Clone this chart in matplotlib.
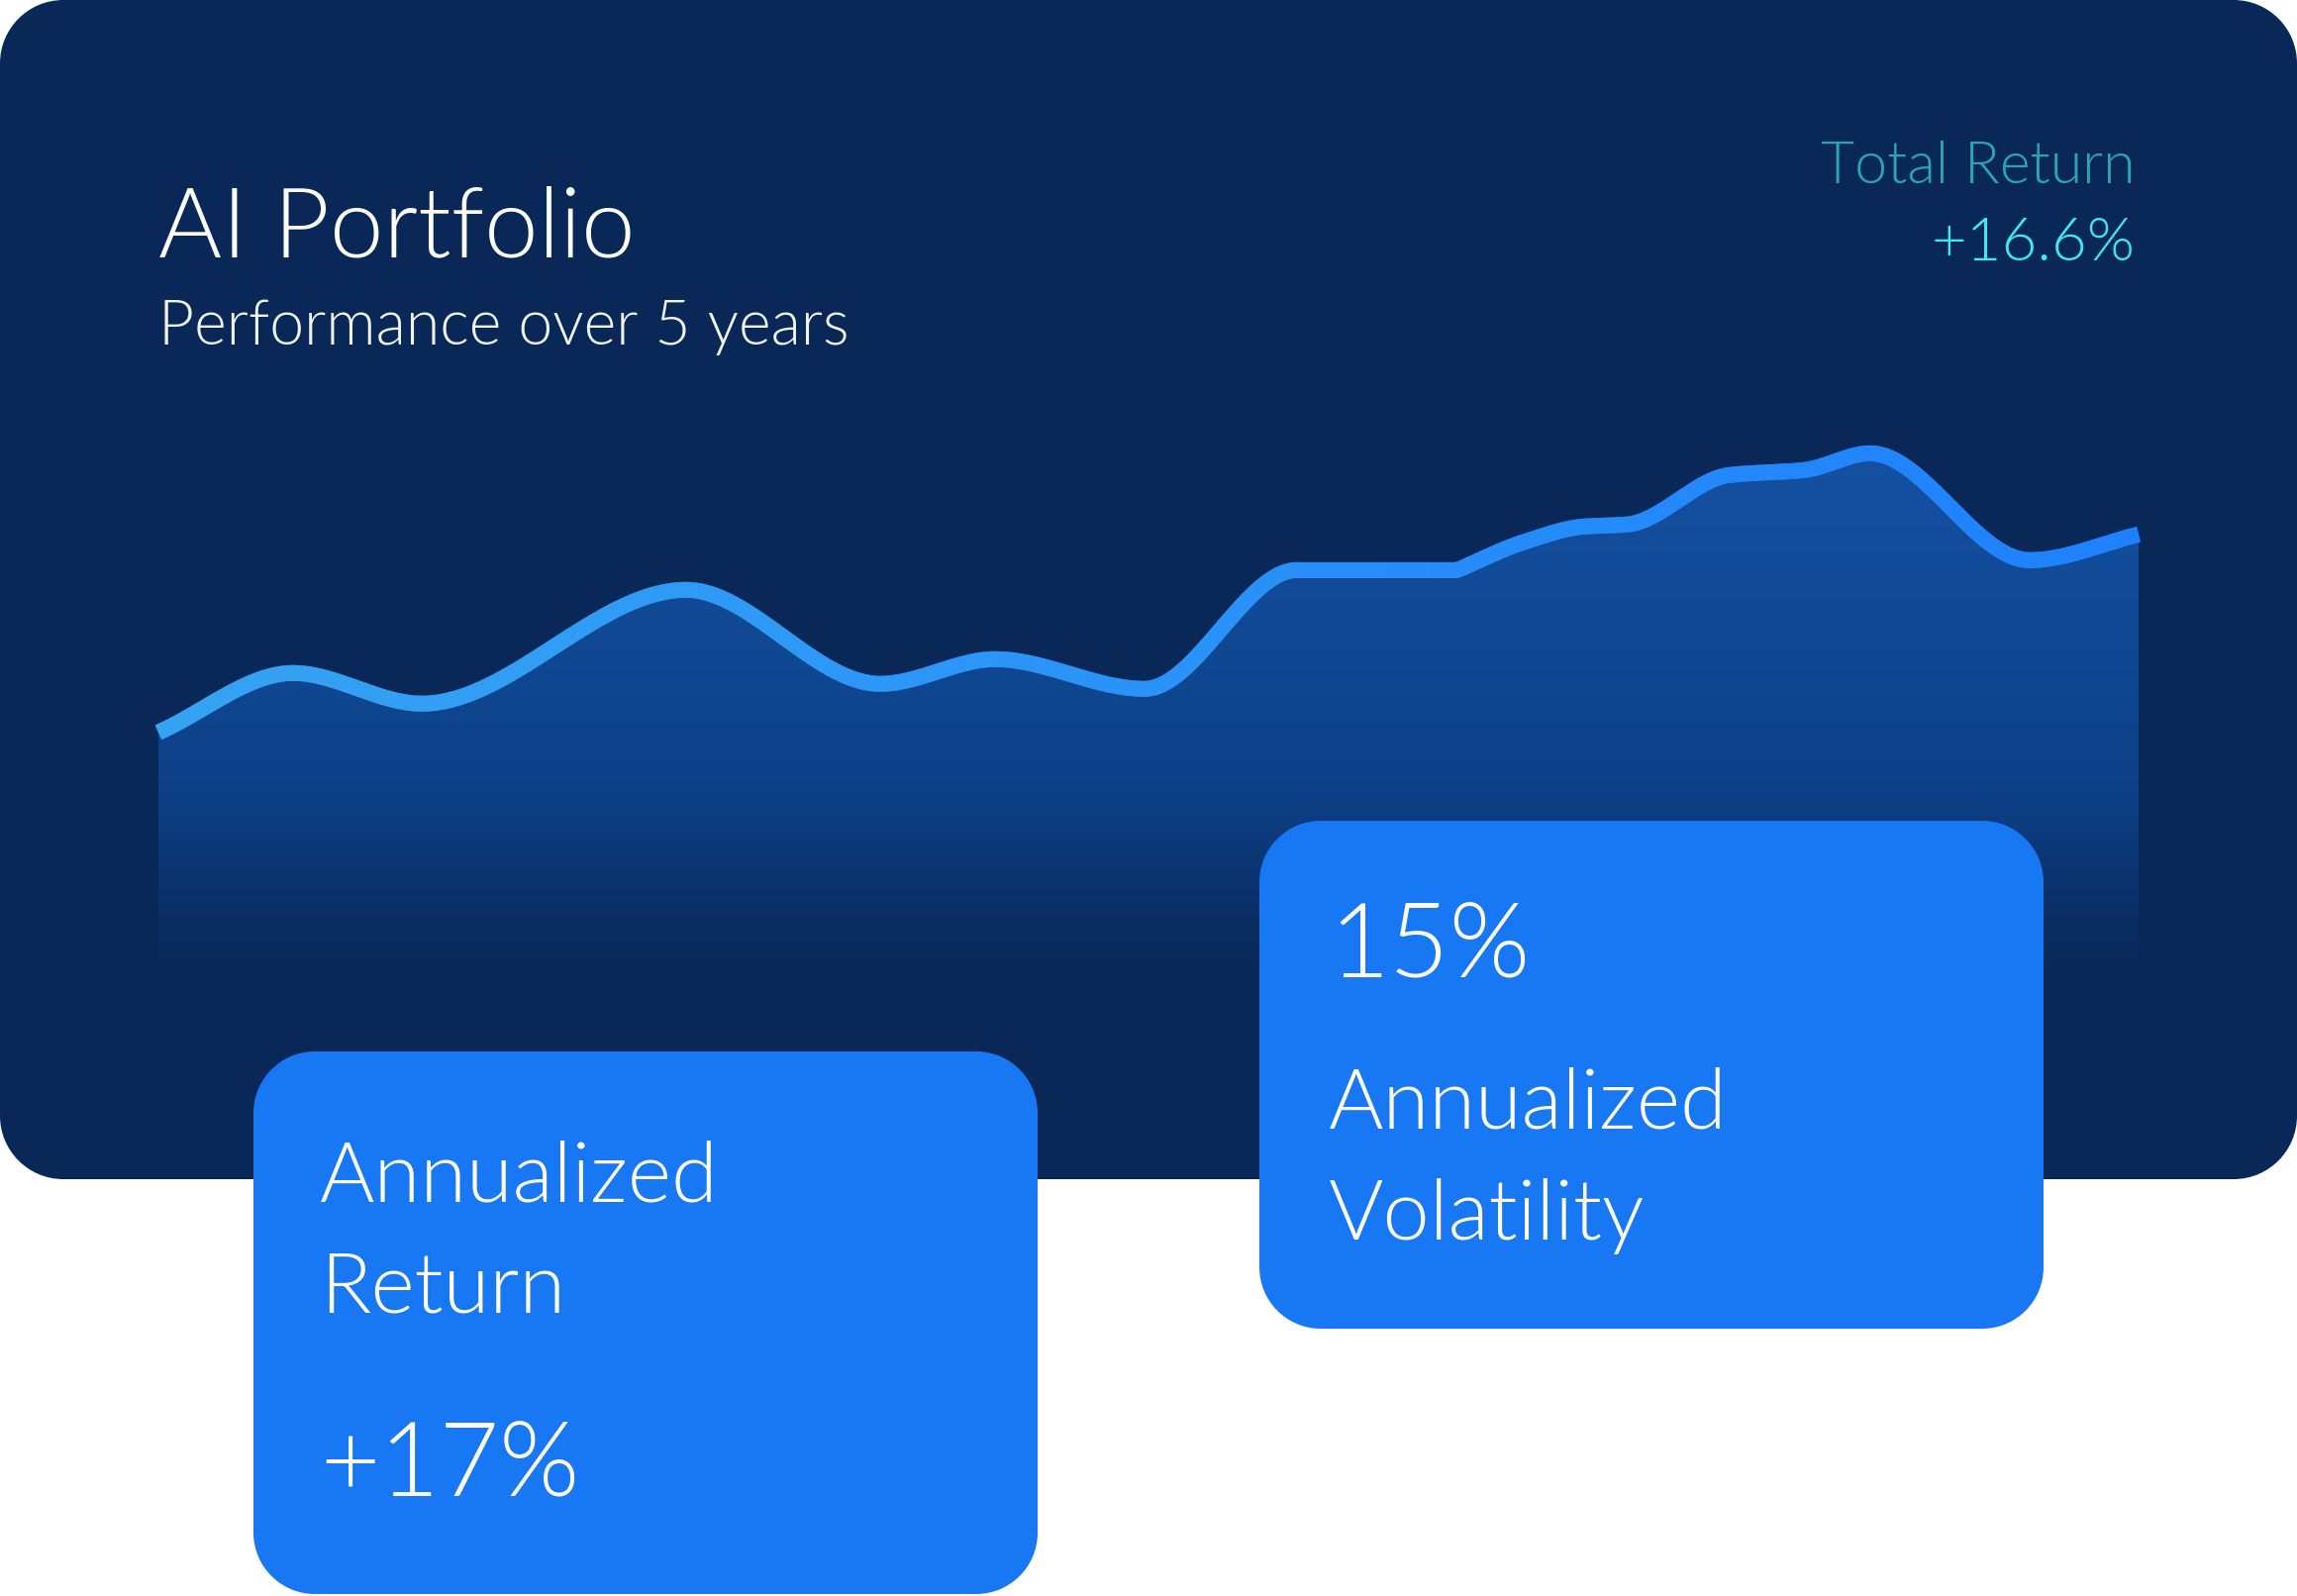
import numpy as np
import matplotlib
matplotlib.use("Agg")
import matplotlib.pyplot as plt
from matplotlib.patches import Polygon, PathPatch
from matplotlib.path import Path
from matplotlib.collections import LineCollection
from matplotlib.colors import to_rgb

# ---------------- data ----------------
months = [0.00, 4.08, 7.98, 15.99, 21.87, 25.35, 29.88, 34.50, 39.36, 41.34,
          43.20, 44.49, 47.61, 49.86, 51.87, 56.70, 60.00]
values = [100.00, 104.98, 102.41, 111.95, 104.07, 106.14, 103.65, 113.61,
          113.61, 115.93, 117.26, 117.43, 121.58, 121.99, 123.40, 114.44, 116.60]

title = "AI Portfolio"
subtitle = "Performance over 5 years"
total_label = "Total Return"
total_value = "+16.6%"
card1_lines = ["Annualized", "Return"]
card1_value = "+17%"
card2_value = "15%"
card2_lines = ["Annualized", "Volatility"]

# ---------------- style ----------------
PANEL = "#092857"
CARD = "#1877F2"
FONT = ["Lato", "DejaVu Sans"]
W, H, DPI = 2320, 1612, 100

fig = plt.figure(figsize=(W / DPI, H / DPI), dpi=DPI)
fig.patch.set_facecolor("white")


def pixel_axes(z):
    a = fig.add_axes([0, 0, 1, 1], zorder=z)
    a.set_xlim(0, W)
    a.set_ylim(H, 0)
    a.axis("off")
    a.patch.set_alpha(0)
    return a


def rounded_rect(a, x0, y0, x1, y1, r, color):
    k = 0.5523 * r
    verts = [
        (x0 + r, y0), (x1 - r, y0),
        (x1 - r + k, y0), (x1, y0 + r - k), (x1, y0 + r),
        (x1, y1 - r),
        (x1, y1 - r + k), (x1 - r + k, y1), (x1 - r, y1),
        (x0 + r, y1),
        (x0 + r - k, y1), (x0, y1 - r + k), (x0, y1 - r),
        (x0, y0 + r),
        (x0, y0 + r - k), (x0 + r - k, y0), (x0 + r, y0),
        (x0 + r, y0),
    ]
    codes = ([Path.MOVETO, Path.LINETO] + [Path.CURVE4] * 3 + [Path.LINETO]
             + [Path.CURVE4] * 3 + [Path.LINETO] + [Path.CURVE4] * 3
             + [Path.LINETO] + [Path.CURVE4] * 3 + [Path.CLOSEPOLY])
    a.add_patch(PathPatch(Path(verts, codes), fc=color, ec="none"))


def ftext(x, y, s, size, color="white", ha="left", weight=300):
    fig.text(x / W, 1 - y / H, s, fontsize=size, color=color, ha=ha,
             va="baseline", family=FONT, weight=weight, zorder=10)


# background panel
bg = pixel_axes(0)
rounded_rect(bg, 0, 0, W, 1191, 64, PANEL)

# ---------------- chart ----------------
L, R, T, B = 160, 2160, 400, 1000
ax = fig.add_axes([L / W, 1 - B / H, (R - L) / W, (B - T) / H], zorder=1)
ax.patch.set_alpha(0)
ax.axis("off")
ax.set_xlim(0, 60)
y0, y1 = 78.4, 128.2
ax.set_ylim(y0, y1)


def smooth(x, y, xs):
    """Monotone cubic Hermite; flat stretches stay straight, the segment
    leaving a flat stretch starts with its own secant slope."""
    x = np.asarray(x, float)
    y = np.asarray(y, float)
    h = np.diff(x)
    d = np.diff(y) / h
    n = len(x)
    m = np.zeros(n)
    for k in range(1, n - 1):
        if d[k - 1] * d[k] > 0:
            w1 = 2 * h[k] + h[k - 1]
            w2 = h[k] + 2 * h[k - 1]
            m[k] = (w1 + w2) / (w1 / d[k - 1] + w2 / d[k])
    m[0] = d[0]
    m[-1] = d[-1]
    m_start = m[:-1].copy()
    m_end = m[1:].copy()
    for k in range(1, n - 1):
        if d[k - 1] == 0 and d[k] != 0:
            m_start[k] = d[k]
    idx = np.clip(np.searchsorted(x, xs) - 1, 0, n - 2)
    t = (xs - x[idx]) / h[idx]
    h00 = 2 * t**3 - 3 * t**2 + 1
    h10 = t**3 - 2 * t**2 + t
    h01 = -2 * t**3 + 3 * t**2
    h11 = t**3 - t**2
    return (h00 * y[idx] + h10 * h[idx] * m_start[idx] + h01 * y[idx + 1]
            + h11 * h[idx] * m_end[idx])


xs = np.linspace(months[0], months[-1], 4000)
ys = smooth(months, values, xs)

# gradient fill under the curve
ny = 600
ygrid = np.linspace(y1, y0, ny)           # top -> bottom
ypx = B - (ygrid - y0) / (y1 - y0) * (B - T)
stops_px = [440, 700, 805, 880, 940, 995]
stops_c = ["#1651A3", "#0F4690", "#0D3F86", "#0B3572", "#0A2C60", PANEL]
cols = np.array([to_rgb(c) for c in stops_c])
rgb = np.stack([np.interp(ypx, stops_px, cols[:, i]) for i in range(3)], axis=1)
img = np.repeat(rgb[:, None, :], 4, axis=1)
poly_xy = np.vstack([[xs[0], y0], np.column_stack([xs, ys]), [xs[-1], y0]])
poly = Polygon(poly_xy, closed=True, fc="none", ec="none", transform=ax.transData)
ax.add_patch(poly)
im = ax.imshow(img, extent=[0, 60, y0, y1], aspect="auto", origin="upper",
               interpolation="bilinear", zorder=1)
im.set_clip_path(poly)

# gradient line
LW = 11.5
c_left, c_right = np.array(to_rgb("#3AAAF2")), np.array(to_rgb("#1C7CFF"))
ax.plot(xs, ys, color="#2B93F7", lw=LW, solid_capstyle="butt",
        solid_joinstyle="round", zorder=2, clip_on=False)
pts = np.column_stack([xs, ys]).reshape(-1, 1, 2)
segs = np.concatenate([pts[:-1], pts[1:]], axis=1)
tt = (xs[:-1] - xs[0]) / (xs[-1] - xs[0])
seg_cols = c_left[None, :] * (1 - tt[:, None]) + c_right[None, :] * tt[:, None]
lc = LineCollection(segs, colors=seg_cols, linewidths=LW, capstyle="butt",
                    joinstyle="round", zorder=3, clip_on=False)
ax.add_collection(lc)

# ---------------- cards ----------------
fg = pixel_axes(5)
rounded_rect(fg, 256, 1062, 1048, 1610, 62, CARD)
rounded_rect(fg, 1272, 829, 2064, 1342, 62, CARD)

# ---------------- texts ----------------
ftext(160, 259, title, 70.5)
ftext(160, 348, subtitle, 45, color="#F2F4F8")
ftext(2157, 185, total_label, 42.5, color="#2AA5B5", ha="right")
ftext(2157, 263, total_value, 44.5, color="#3FE9F4", ha="right")

ftext(323, 1213, card1_lines[0], 61)
ftext(323, 1326, card1_lines[1], 61)
ftext(323, 1512, card1_value, 75)

ftext(1342, 988, card2_value, 75.5)
ftext(1342, 1139, card2_lines[0], 61)
ftext(1342, 1252, card2_lines[1], 61)

fig.savefig("out.png", dpi=DPI, facecolor="white")
